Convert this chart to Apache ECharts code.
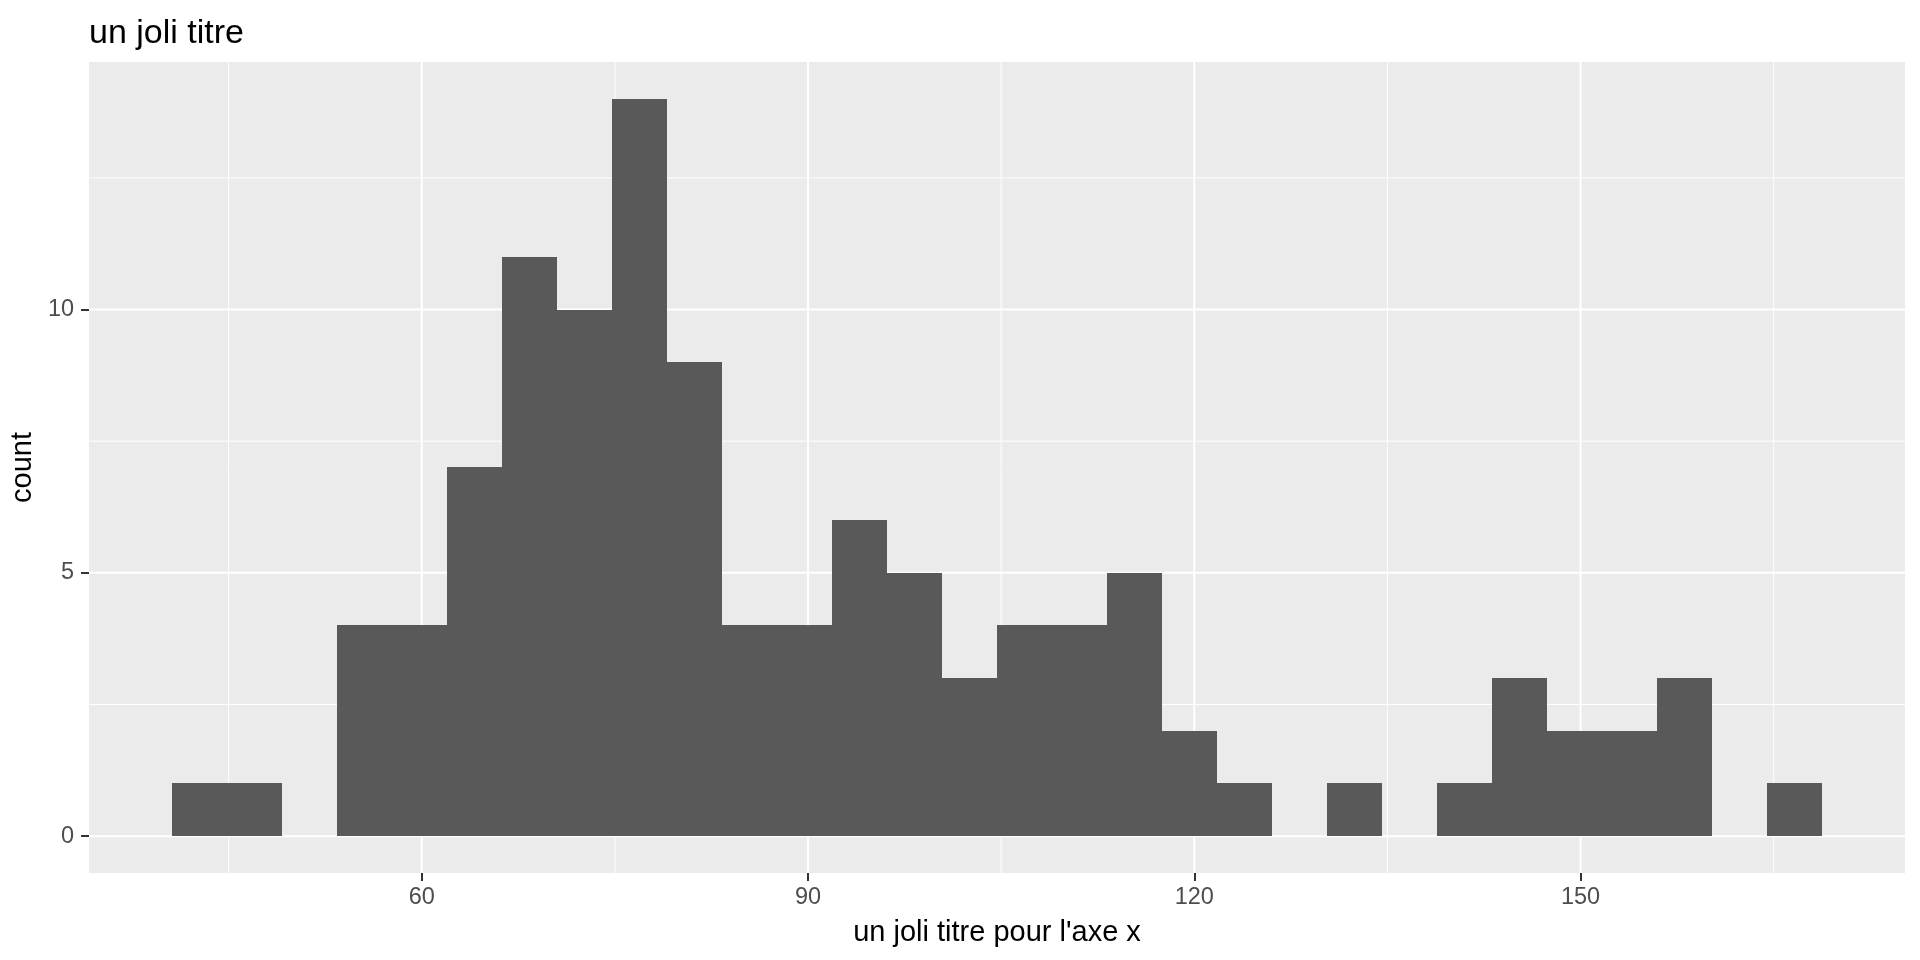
<!DOCTYPE html>
<html>
<head>
<meta charset="utf-8">
<script src="https://cdn.jsdelivr.net/npm/echarts@6/dist/echarts.min.js"></script>
<style>html,body{margin:0;padding:0;background:#fff}#c{width:1920px;height:960px}</style>
</head>
<body>
<div id="c"></div>
<script>
// Histogram bin edges (31 edges -> 30 bins) and counts
const binEdges = [40.57, 44.84, 49.12, 53.39, 57.67, 61.94, 66.21, 70.49, 74.76, 79.04,
  83.31, 87.58, 91.86, 96.13, 100.41, 104.68, 108.95, 113.23, 117.50, 121.78,
  126.05, 130.32, 134.60, 138.87, 143.15, 147.42, 151.69, 155.97, 160.24, 164.52, 168.79];
const counts = [1, 1, 0, 4, 4, 7, 11, 10, 14, 9, 4, 4, 6, 5, 3, 4, 4, 5, 2, 1, 0, 1, 0, 1, 3, 2, 2, 3, 0, 1];
const xTicks = [60, 90, 120, 150];
const xMinor = [45, 75, 105, 135, 165];
const yTicks = [0, 5, 10];
const yMinor = [2.5, 7.5, 12.5];
const titleText = 'un joli titre';
const xTitle = "un joli titre pour l'axe x";
const yTitle = 'count';

const FONT = '"Liberation Sans", Arial, sans-serif';
const barData = counts.map((c, i) => [binEdges[i], binEdges[i + 1], c]);
const gridData = [];
xTicks.forEach(v => gridData.push([v, 'x', 2]));
xMinor.forEach(v => gridData.push([v, 'x', 1]));
yTicks.forEach(v => gridData.push([v, 'y', 2]));
yMinor.forEach(v => gridData.push([v, 'y', 1]));

const chart = echarts.init(document.getElementById('c'), null, {renderer: 'canvas'});
chart.setOption({
  animation: false,
  backgroundColor: '#ffffff',
  title: {
    text: titleText, left: 84, top: 12,
    textStyle: {fontFamily: FONT, fontSize: 34, fontWeight: 'normal', color: '#000'}
  },
  grid: {left: 89, right: 15, top: 62, bottom: 87, show: true, backgroundColor: '#EBEBEB', borderWidth: 0},
  xAxis: {
    type: 'value', min: 34.16, max: 175.2,
    name: xTitle, nameLocation: 'middle', nameGap: 45,
    nameTextStyle: {fontFamily: FONT, fontSize: 29, color: '#000'},
    axisLine: {show: false, onZero: false},
    axisTick: {show: true, customValues: xTicks, length: 8, lineStyle: {color: '#333333', width: 2}},
    axisLabel: {customValues: xTicks, margin: 13, fontFamily: FONT, fontSize: 23.5, color: '#4D4D4D'},
    splitLine: {show: false}
  },
  yAxis: {
    type: 'value', min: -0.7, max: 14.7,
    name: yTitle, nameLocation: 'middle', nameGap: 50, nameRotate: 90,
    nameTextStyle: {fontFamily: FONT, fontSize: 29, color: '#000'},
    axisLine: {show: false, onZero: false},
    axisTick: {show: true, customValues: yTicks, length: 8, lineStyle: {color: '#333333', width: 2}},
    axisLabel: {customValues: yTicks, margin: 15, fontFamily: FONT, fontSize: 23.5, color: '#4D4D4D'},
    splitLine: {show: false}
  },
  series: [
    {
      type: 'custom', z: 1, silent: true,
      data: gridData,
      encode: {x: 0},
      renderItem: function (params, api) {
        const cs = params.coordSys;
        const v = api.value(0);
        const dir = gridData[params.dataIndex][1];
        const w = gridData[params.dataIndex][2];
        let shape;
        if (dir === 'x') {
          const x = api.coord([v, 0])[0];
          shape = {x1: x, y1: cs.y, x2: x, y2: cs.y + cs.height};
        } else {
          const y = api.coord([40, v])[1];
          shape = {x1: cs.x, y1: y, x2: cs.x + cs.width, y2: y};
        }
        return {type: 'line', shape: shape, style: {stroke: '#FFFFFF', lineWidth: w}};
      }
    },
    {
      type: 'custom', z: 2, silent: true,
      data: barData,
      encode: {x: [0, 1], y: 2},
      renderItem: function (params, api) {
        const c = api.value(2);
        if (!c) return null;
        const p0 = api.coord([api.value(0), 0]);
        const p1 = api.coord([api.value(1), c]);
        const x0 = Math.round(p0[0]), x1 = Math.round(p1[0]);
        const y0 = Math.round(p0[1]), y1 = Math.round(p1[1]);
        return {
          type: 'rect',
          shape: {x: x0, y: y1, width: x1 - x0, height: y0 - y1},
          style: {fill: '#595959'}
        };
      }
    }
  ]
});
</script>
</body>
</html>
